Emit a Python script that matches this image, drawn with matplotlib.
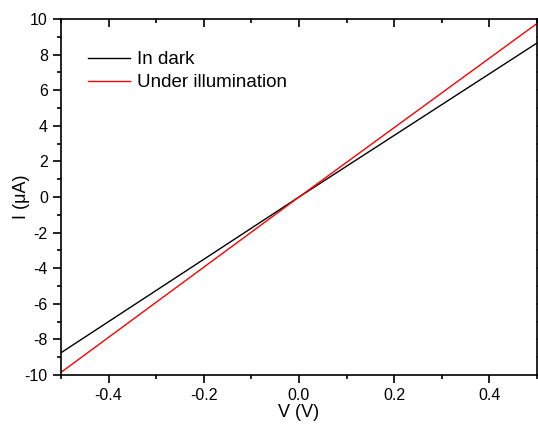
import matplotlib
matplotlib.use("Agg")
import matplotlib.pyplot as plt
from matplotlib.ticker import MultipleLocator

plt.rcParams["font.family"] = ["Liberation Sans", "DejaVu Sans"]

voltage = [-0.5, 0.0, 0.5]
current_dark = [-8.75, 0.0, 8.65]
current_light = [-9.85, 0.0, 9.75]

fig = plt.figure(figsize=(5.38, 4.30), dpi=100)
ax = fig.add_axes([61 / 538, 1 - 375 / 430, 476 / 538, 356 / 430])

ax.plot(voltage, current_dark, color="black", lw=1.0, label="In dark")
ax.plot(voltage, current_light, color="red", lw=1.0, label="Under illumination")

ax.set_xlim(-0.5, 0.5)
ax.set_ylim(-10, 10)
ax.xaxis.set_major_locator(MultipleLocator(0.2))
ax.xaxis.set_minor_locator(MultipleLocator(0.1))
ax.yaxis.set_major_locator(MultipleLocator(2))
ax.yaxis.set_minor_locator(MultipleLocator(1))

ax.tick_params(which="both", direction="out", labelsize=11.5, width=1.2,
               top=True, right=True)
ax.tick_params(which="major", length=6)
ax.tick_params(which="minor", length=3)
# mirror ticks point inward
for t in ax.xaxis.get_major_ticks() + ax.xaxis.get_minor_ticks():
    t.tick2line.set_marker(3)
for t in ax.yaxis.get_major_ticks() + ax.yaxis.get_minor_ticks():
    t.tick2line.set_marker(1)

ax.set_xticklabels([f"{v:.1f}" if abs(v) > 1e-9 else "0.0" for v in ax.get_xticks()])
ax.set_yticklabels([f"{int(round(v))}" for v in ax.get_yticks()])

for sp in ax.spines.values():
    sp.set_linewidth(1.2)

ax.set_xlabel("V (V)", fontsize=13, labelpad=0.5)
ax.set_ylabel("I (μA)", fontsize=13, labelpad=-4)

ax.legend(loc="upper left", frameon=False, fontsize=13.5, handlelength=2.24,
          handletextpad=0.37, borderaxespad=0, borderpad=0, labelspacing=0.31,
          bbox_to_anchor=(27 / 476, 1 - 32 / 356))

fig.savefig("out.png", dpi=100)
